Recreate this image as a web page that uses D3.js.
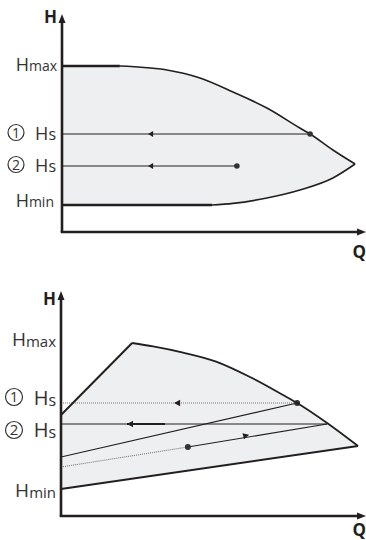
<!DOCTYPE html>
<html>
<head>
<meta charset="utf-8">
<script src="https://cdn.jsdelivr.net/npm/d3@7"></script>
<style>
body { margin: 0; background: #fff; }
svg { display: block; font-family: "Open Sans", sans-serif; }
</style>
</head>
<body>
<div id="chart"></div>
<script>
// ---- top diagram (constant pressure) : [Q, H] in % of axis
var topHmax = 83, topHmin = 13.5;
var topUpper = [[19.3,83],[35,81],[46,77],[57,70],[68.3,62],[79.3,52],[82.7,49],[90.3,41],[97.7,34]];
var topLower = [[97.7,34],[90.3,27],[79.3,21],[68.3,17],[57,14.3],[50,13.5]];
var topHs = [49, 33];          // set points 1 and 2
var topDotQ = [82.7, 58.3];    // operating points
var topArrowQ = 28.7;

// ---- bottom diagram (proportional pressure)
var botLeft = [[0,50.5],[23.7,86.5]];
var botCurve = [[23.7,86.5],[30.7,84.8],[40.7,81.7],[51.7,77.2],[63,69.5],[74,60.5],[78.7,56.5],[88.7,46.5],[99,35]];
var botBottom = [[99,35],[0,13.5]];
var botHs = [56.5, 46];
var botLineA = [[0,29.5],[78.7,56.5]];
var botLineBdot = [[0,24.5],[42.3,34.5]];
var botLineB = [[42.3,34.5],[88.7,46]];
var botArrows = [[37.7,56.5,180],[22,46,180],[62.7,40.6,-14]];

var ink = "#231f20", fillCol = "#eeeff1";

var svg = d3.select("#chart").append("svg")
	.attr("width", 366)
	.attr("height", 540);

function arrowHead(g, px, py, angle, len, wid, col) {
	g.append("path")
		.attr("d", "M0,0L" + (-len) + "," + (-wid) + "L" + (-len) + "," + wid + "Z")
		.attr("transform", "translate(" + px + "," + py + ") rotate(" + angle + ")")
		.attr("fill", col || ink);
}

function label(g, xr, base, main, sub, fm, fs, subDy) {
	var t = g.append("text")
		.attr("x", xr).attr("y", base)
		.attr("text-anchor", "end")
		.attr("fill", "#333");
	t.append("tspan").attr("font-size", fm).text(main);
	t.append("tspan").attr("font-size", fs).attr("dy", subDy).text(sub);
}

function circled(g, cx, cy, r, num, fs) {
	g.append("circle").attr("cx", cx).attr("cy", cy).attr("r", r)
		.attr("fill", "none").attr("stroke", "#333").attr("stroke-width", 1.2);
	g.append("text").attr("x", cx).attr("y", cy + fs * 0.36)
		.attr("text-anchor", "middle").attr("font-size", fs).attr("fill", "#333")
		.text(num);
}

// ================= top chart =================
var x1 = d3.scaleLinear().domain([0, 100]).range([62, 362]);
var y1 = d3.scaleLinear().domain([0, 100]).range([232, 32]);
var curve1 = d3.line().x(function(d){ return x1(d[0]); }).y(function(d){ return y1(d[1]); }).curve(d3.curveMonotoneX);
var lin1 = d3.line().x(function(d){ return x1(d[0]); }).y(function(d){ return y1(d[1]); });
var g1 = svg.append("g");

g1.append("path")
	.attr("d", lin1([[0,topHmin],[0,topHmax]]) + curve1(topUpper).replace("M","L") + curve1(topLower).replace("M","L") + "Z")
	.attr("fill", fillCol);

g1.append("path").attr("d", lin1([[0,topHmax],[19.3,topHmax]])).attr("stroke", ink).attr("stroke-width", 2.4).attr("fill", "none");
g1.append("path").attr("d", lin1([[0,topHmin],[50,topHmin]])).attr("stroke", ink).attr("stroke-width", 2.4).attr("fill", "none");
g1.append("path").attr("d", curve1(topUpper)).attr("stroke", ink).attr("stroke-width", 1.6).attr("fill", "none");
g1.append("path").attr("d", curve1(topLower)).attr("stroke", ink).attr("stroke-width", 1.6).attr("fill", "none");

topHs.forEach(function(h, i) {
	g1.append("line")
		.attr("x1", x1(0)).attr("x2", x1(topDotQ[i]))
		.attr("y1", y1(h)).attr("y2", y1(h))
		.attr("stroke", ink).attr("stroke-width", 1);
	arrowHead(g1, x1(topArrowQ), y1(h), 180, 5, 3);
	g1.append("circle").attr("cx", x1(topDotQ[i])).attr("cy", y1(h)).attr("r", 2.8).attr("fill", "#333");
});

// axes
g1.append("line").attr("x1", x1(0)).attr("x2", x1(0)).attr("y1", y1(0)).attr("y2", 22).attr("stroke", ink).attr("stroke-width", 2.6);
arrowHead(g1, x1(0), 14, -90, 9, 3.5);
g1.append("line").attr("x1", x1(0) - 1.3).attr("x2", 358).attr("y1", y1(0)).attr("y2", y1(0)).attr("stroke", ink).attr("stroke-width", 2.6);
arrowHead(g1, 366, y1(0), 0, 9, 3.5);
g1.append("text").attr("x", 57).attr("y", 23).attr("text-anchor", "end").attr("font-size", 17).attr("font-weight", "bold").attr("fill", ink).text("H");
g1.append("text").attr("x", 366).attr("y", 258).attr("text-anchor", "end").attr("font-size", 17).attr("font-weight", "bold").attr("fill", ink).text("Q");

label(g1, 57, y1(topHmax) + 5, "H", "max", 18, 14, 0);
label(g1, 54, y1(topHmin) + 2, "H", "min", 18, 14, 0);
label(g1, 56, y1(topHs[0]) + 6, "H", "s", 18, 16, 0);
label(g1, 56, y1(topHs[1]) + 6, "H", "s", 18, 16, 0);
circled(g1, 16, y1(topHs[0]) - 1.5, 8, "1", 14);
circled(g1, 16, y1(topHs[1]) - 1.5, 8, "2", 14);

// ================= bottom chart =================
var x2 = d3.scaleLinear().domain([0, 100]).range([61, 361]);
var y2 = d3.scaleLinear().domain([0, 100]).range([516, 316]);
var curve2 = d3.line().x(function(d){ return x2(d[0]); }).y(function(d){ return y2(d[1]); }).curve(d3.curveMonotoneX);
var lin2 = d3.line().x(function(d){ return x2(d[0]); }).y(function(d){ return y2(d[1]); });
var g2 = svg.append("g");

g2.append("path")
	.attr("d", lin2(botLeft) + curve2(botCurve).replace("M","L") + lin2(botBottom).replace("M","L") + "Z")
	.attr("fill", fillCol);

// operating lines
g2.append("line").attr("x1", x2(0)).attr("x2", x2(78.7)).attr("y1", y2(botHs[0])).attr("y2", y2(botHs[0]))
	.attr("stroke", "#777").attr("stroke-width", 1.1).attr("stroke-dasharray", "1,1");
g2.append("line").attr("x1", x2(0)).attr("x2", x2(88.7)).attr("y1", y2(botHs[1])).attr("y2", y2(botHs[1]))
	.attr("stroke", "#666").attr("stroke-width", 1.3);
g2.append("line").attr("x1", x2(22)).attr("x2", x2(34.7)).attr("y1", y2(botHs[1])).attr("y2", y2(botHs[1]))
	.attr("stroke", ink).attr("stroke-width", 1.8);
g2.append("path").attr("d", lin2(botLineA)).attr("stroke", ink).attr("stroke-width", 1.1).attr("fill", "none");
g2.append("path").attr("d", lin2(botLineBdot)).attr("stroke", "#777").attr("stroke-width", 1.1).attr("stroke-dasharray", "1,1").attr("fill", "none");
g2.append("path").attr("d", lin2(botLineB)).attr("stroke", ink).attr("stroke-width", 1.1).attr("fill", "none");

botArrows.forEach(function(a) {
	arrowHead(g2, x2(a[0]), y2(a[1]), a[2], 6, 3.2);
});
g2.append("circle").attr("cx", x2(78.7)).attr("cy", y2(botHs[0])).attr("r", 3).attr("fill", "#333");
g2.append("circle").attr("cx", x2(42.3)).attr("cy", y2(34.5)).attr("r", 3).attr("fill", "#333");

// boundary
g2.append("path").attr("d", lin2(botLeft)).attr("stroke", ink).attr("stroke-width", 2).attr("fill", "none");
g2.append("path").attr("d", curve2(botCurve)).attr("stroke", ink).attr("stroke-width", 1.8).attr("fill", "none");
g2.append("path").attr("d", lin2(botBottom)).attr("stroke", ink).attr("stroke-width", 2).attr("fill", "none");

// axes
g2.append("line").attr("x1", x2(0)).attr("x2", x2(0)).attr("y1", y2(0)).attr("y2", 299).attr("stroke", ink).attr("stroke-width", 2.6);
arrowHead(g2, x2(0), 291, -90, 9, 3.5);
g2.append("line").attr("x1", x2(0) - 1.3).attr("x2", 358).attr("y1", y2(0)).attr("y2", y2(0)).attr("stroke", ink).attr("stroke-width", 2.6);
arrowHead(g2, 366, y2(0), 0, 9, 3.5);
g2.append("text").attr("x", 56).attr("y", 305).attr("text-anchor", "end").attr("font-size", 17).attr("font-weight", "bold").attr("fill", ink).text("H");
g2.append("text").attr("x", 366).attr("y", 536).attr("text-anchor", "end").attr("font-size", 17).attr("font-weight", "bold").attr("fill", ink).text("Q");

label(g2, 56, 346, "H", "max", 19, 15, 1);
label(g2, 56, 497, "H", "min", 19, 15, 1);
label(g2, 56, 405, "H", "s", 20, 16, 1);
label(g2, 56, 437, "H", "s", 20, 16, 1);
circled(g2, 14, 397, 8.5, "1", 15);
circled(g2, 14, 430, 8.5, "2", 15);
</script>
</body>
</html>
